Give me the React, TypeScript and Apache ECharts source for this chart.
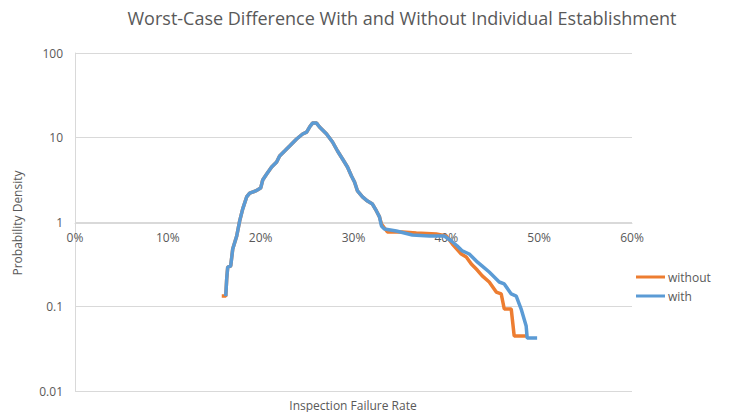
import React, { useEffect, useRef } from "react";
import * as echarts from "echarts";

const titleText = "Worst-Case Difference With and Without Individual Establishment";
const xAxisTitle = "Inspection Failure Rate";
const yAxisTitle = "Probability Density";
const seriesNames = ["without", "with"];
const yTickLabels = ["0.01", "0.1", "1", "10", "100"];

const withoutX = [
  0.1581, 0.1624, 0.1634, 0.1645, 0.1677, 0.1699, 0.1742, 0.1774, 0.1806, 0.1849, 0.1882,
  0.1946, 0.2, 0.2022, 0.2065, 0.2118, 0.2172, 0.2204, 0.2258, 0.2312, 0.2387, 0.2452,
  0.2495, 0.2527, 0.2559, 0.2602, 0.2634, 0.271, 0.2774, 0.2828, 0.2882, 0.2935, 0.2978,
  0.3011, 0.3043, 0.3097, 0.3151, 0.3204, 0.3247, 0.328, 0.3301, 0.3366, 0.3527, 0.3677,
  0.3892, 0.4, 0.4065, 0.4161, 0.4215, 0.4269, 0.4333, 0.4387, 0.4462, 0.4538, 0.4591,
  0.4624, 0.4699, 0.4731, 0.486,
];
const withoutY = [
  0.133, 0.133, 0.211, 0.293, 0.301, 0.479, 0.683, 1.03, 1.42, 1.98, 2.2,
  2.33, 2.52, 3.14, 3.7, 4.48, 5.13, 6.04, 6.92, 7.93, 9.6, 11.0,
  11.6, 13.3, 14.8, 14.8, 13.3, 11.0, 8.85, 6.92, 5.57, 4.48, 3.5,
  2.97, 2.33, 1.98, 1.77, 1.63, 1.35, 1.15, 0.947, 0.761, 0.761, 0.741,
  0.721, 0.683, 0.549, 0.418, 0.385, 0.318, 0.27, 0.23, 0.195, 0.148, 0.141,
  0.0934, 0.0934, 0.0448, 0.0448,
];

const withX = [
  0.1624, 0.1634, 0.1645, 0.1677, 0.1699, 0.1742, 0.1774, 0.1806, 0.1849, 0.1882,
  0.1946, 0.2, 0.2022, 0.2065, 0.2118, 0.2172, 0.2204, 0.2258, 0.2312, 0.2387, 0.2452,
  0.2495, 0.2527, 0.2559, 0.2602, 0.2634, 0.271, 0.2774, 0.2828, 0.2882, 0.2935, 0.2978,
  0.3011, 0.3043, 0.3097, 0.3151, 0.3204, 0.3247, 0.328, 0.3301, 0.3333, 0.3462, 0.3634,
  0.3817, 0.3978, 0.4054, 0.4118, 0.4172, 0.4247, 0.4323, 0.4387, 0.4462, 0.457, 0.4624,
  0.4699, 0.4753, 0.4806, 0.486, 0.4871, 0.4978,
];
const withY = [
  0.133, 0.211, 0.293, 0.301, 0.479, 0.683, 1.03, 1.42, 1.98, 2.2,
  2.33, 2.52, 3.14, 3.7, 4.48, 5.13, 6.04, 6.92, 7.93, 9.6, 11.0,
  11.6, 13.3, 14.8, 14.8, 13.3, 11.0, 8.85, 6.92, 5.57, 4.48, 3.5,
  2.97, 2.33, 1.98, 1.77, 1.63, 1.35, 1.15, 0.897, 0.827, 0.782, 0.702,
  0.683, 0.683, 0.596, 0.52, 0.454, 0.418, 0.345, 0.301, 0.256, 0.195, 0.185,
  0.141, 0.133, 0.0934, 0.0587, 0.0424, 0.0424,
];

const FONT = "'Open Sans', 'Noto Sans', sans-serif";
const TEXT = "#595959";
const GRID = "#d9d9d9";

export default function App() {
  const ref = useRef<HTMLDivElement>(null);
  useEffect(() => {
    if (!ref.current) return;
    const chart = echarts.init(ref.current, null, { renderer: "svg" });
    const pair = (xs: number[], ys: number[]) => xs.map((x, i) => [x, ys[i]]);
    chart.setOption({
      animation: false,
      backgroundColor: "#ffffff",
      textStyle: { fontFamily: FONT },
      grid: { left: 75, right: 119, top: 53, bottom: 21, containLabel: false },
      xAxis: {
        type: "value",
        min: 0,
        max: 0.6,
        interval: 0.1,
        position: "bottom",
        offset: -168,
        axisLine: { show: true, lineStyle: { color: GRID, width: 1 } },
        axisTick: { show: false },
        splitLine: { show: false },
        axisLabel: {
          color: TEXT,
          fontSize: 12,
          fontFamily: FONT,
          margin: 8,
          formatter: (v: number) => Math.round(v * 100) + "%",
        },
      },
      yAxis: {
        type: "log",
        logBase: 10,
        min: 0.01,
        max: 100,
        axisLine: { show: true, lineStyle: { color: GRID, width: 1 } },
        axisTick: { show: false },
        splitLine: { show: true, lineStyle: { color: GRID, width: 1 } },
        axisLabel: {
          color: TEXT,
          fontSize: 12,
          fontFamily: FONT,
          margin: 12,
          formatter: (v: number) => yTickLabels[Math.round(Math.log10(v)) + 2] ?? String(v),
        },
      },
      legend: {
        data: seriesNames,
        orient: "vertical",
        left: 631,
        top: 266,
        icon: "rect",
        itemWidth: 29,
        itemHeight: 3,
        itemGap: 7,
        textStyle: { color: TEXT, fontSize: 12, fontFamily: FONT, padding: [0, 0, 0, -2] },
      },
      graphic: [
        {
          type: "text",
          x: 402,
          y: 18,
          style: {
            text: titleText,
            fill: TEXT,
            font: `18px ${FONT}`,
            align: "center",
            verticalAlign: "middle",
          },
        },
        {
          type: "text",
          x: 353,
          y: 405,
          style: {
            text: xAxisTitle,
            fill: TEXT,
            font: `12px ${FONT}`,
            align: "center",
            verticalAlign: "middle",
          },
        },
        {
          type: "text",
          x: 17,
          y: 223,
          rotation: Math.PI / 2,
          style: {
            text: yAxisTitle,
            fill: TEXT,
            font: `12px ${FONT}`,
            align: "center",
            verticalAlign: "middle",
          },
        },
      ],
      series: [
        {
          name: seriesNames[0],
          type: "line",
          data: pair(withoutX, withoutY),
          showSymbol: false,
          symbol: "none",
          lineStyle: { color: "#ED7D31", width: 3.5 },
          itemStyle: { color: "#ED7D31" },
        },
        {
          name: seriesNames[1],
          type: "line",
          data: pair(withX, withY),
          showSymbol: false,
          symbol: "none",
          lineStyle: { color: "#5B9BD5", width: 3.5 },
          itemStyle: { color: "#5B9BD5" },
        },
      ],
    });
    return () => chart.dispose();
  }, []);
  return (
    <div
      ref={ref}
      style={{ position: "fixed", left: 0, top: 0, width: 751, height: 412 }}
    />
  );
}
